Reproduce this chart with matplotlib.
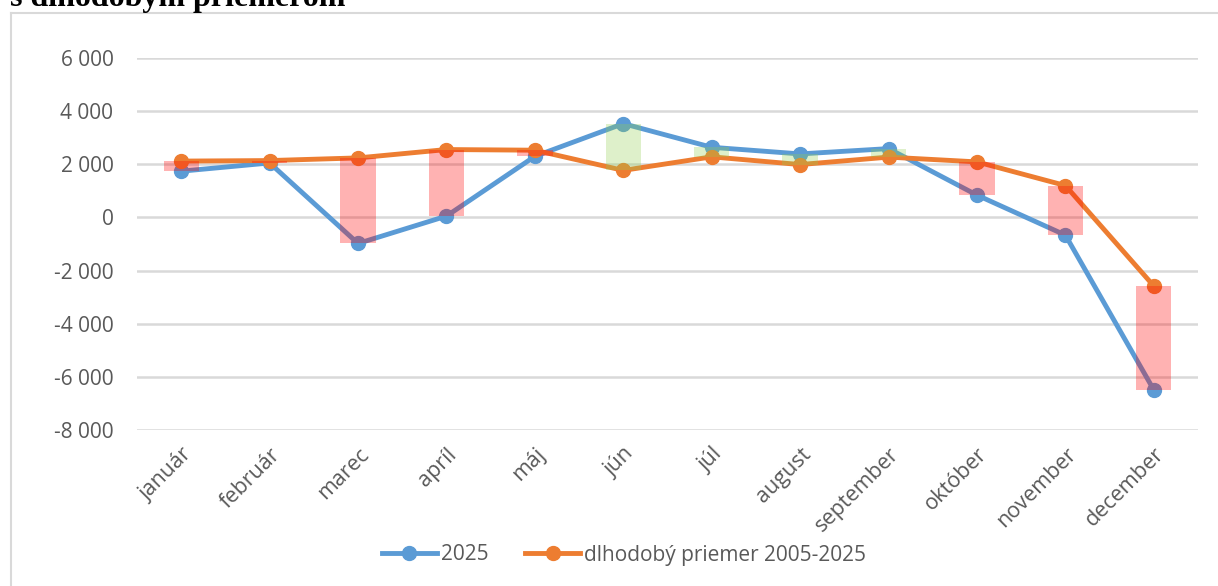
import matplotlib
matplotlib.use("Agg")
import matplotlib.pyplot as plt
from matplotlib.lines import Line2D
import numpy as np

months = ["január", "február", "marec", "apríl", "máj", "jún", "júl",
          "august", "september", "október", "november", "december"]
v2025 = [1740, 2050, -980, 50, 2300, 3530, 2640, 2390, 2590, 840, -665, -6490]
avg = [2120, 2140, 2240, 2555, 2530, 1770, 2280, 1990, 2270, 2090, 1200, -2580]
yticks = [6000, 4000, 2000, 0, -2000, -4000, -6000, -8000]
ytick_labels = ["6 000", "4 000", "2 000", "0", "-2 000", "-4 000", "-6 000", "-8 000"]
title = "s dlhodobým priemerom"

W, H = 1218, 586
fig = plt.figure(figsize=(W / 100, H / 100), dpi=100)
font = "Open Sans"
gray = "#595959"

ax = fig.add_axes([137 / W, 1 - 430 / H, (1198 - 137) / W, (430 - 58) / H])
x = np.arange(len(months))

ax.plot(x, v2025, color="#5B9BD5", lw=3.5, marker="o", ms=10, zorder=3,
        solid_capstyle="round", solid_joinstyle="round")
ax.plot(x, avg, color="#ED7D31", lw=3.5, marker="o", ms=10, zorder=4,
        solid_capstyle="round", solid_joinstyle="round")

a = np.array(v2025)
b = np.array(avg)
bottoms = np.minimum(a, b)
heights = np.abs(a - b)
colors = ["#FF0000" if ai < bi else "#92D050" for ai, bi in zip(a, b)]
ax.bar(x, heights, bottom=bottoms, width=0.4, color=colors, alpha=0.3,
       zorder=5, linewidth=0)

ax.set_xlim(-0.5, 11.5)
ax.set_ylim(-8000, 6000)
ax.set_yticks(yticks)
ax.set_yticklabels(ytick_labels, fontfamily=font, fontsize=15, color=gray)
ax.set_xticks(x)
ax.set_xticklabels(months, rotation=45, ha="right", rotation_mode="anchor",
                   fontfamily=font, fontsize=15.5, color=gray)
ax.tick_params(axis="both", length=0)
ax.tick_params(axis="y", pad=17)
ax.tick_params(axis="x", pad=10)
ax.grid(axis="y", color="#D9D9D9", lw=1.8, zorder=0)
ax.set_axisbelow(True)
for s in ax.spines.values():
    s.set_visible(False)

handles = [
    Line2D([], [], color="#5B9BD5", lw=3.5, marker="o", ms=10),
    Line2D([], [], color="#ED7D31", lw=3.5, marker="o", ms=10),
]
fig.legend(handles, ["2025", "dlhodobý priemer 2005-2025"], loc="center",
           bbox_to_anchor=(624 / W, 1 - 555 / H), ncol=2, frameon=False,
           handlelength=2.65, handletextpad=0.2, columnspacing=1.75,
           prop={"family": font, "size": 15}, labelcolor=gray)

# chart border (top and left visible)
fig.add_artist(Line2D([10.5 / W, 10.5 / W], [0, 1 - 12.5 / H],
                      transform=fig.transFigure, color="#D9D9D9", lw=1.5))
fig.add_artist(Line2D([10.5 / W, 1], [1 - 12.5 / H, 1 - 12.5 / H],
                      transform=fig.transFigure, color="#D9D9D9", lw=1.5))

fig.text(10 / W, 1 - 6 / H, title, fontfamily="Liberation Serif",
         fontweight="bold", fontsize=23, va="baseline", ha="left", color="black")

fig.savefig("out.png", dpi=100)
